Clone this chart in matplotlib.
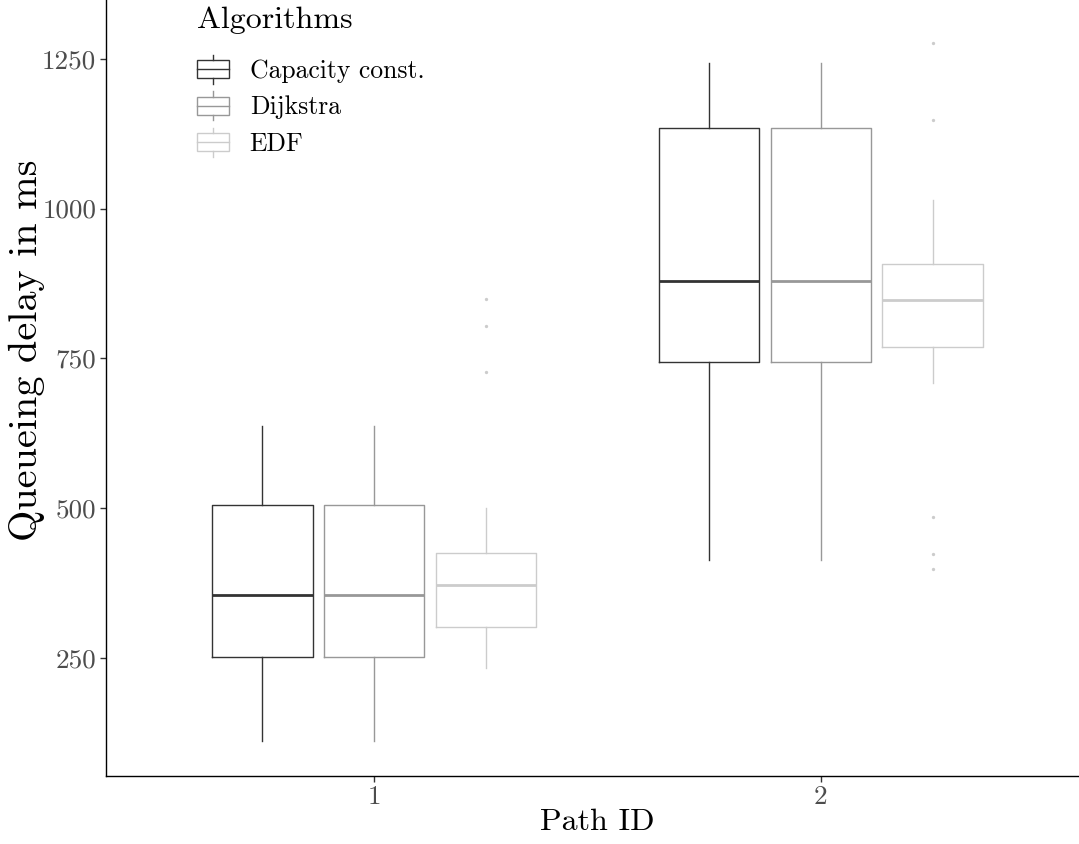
import matplotlib
matplotlib.use("Agg")
import matplotlib.pyplot as plt
from matplotlib.legend_handler import HandlerBase
from matplotlib.lines import Line2D
from matplotlib.patches import Rectangle, Patch

plt.rcParams['font.family'] = ['cmr10', 'DejaVu Serif']
plt.rcParams['axes.unicode_minus'] = False
plt.rcParams['mathtext.fontset'] = 'cm'

# ---------------- data ----------------
paths = [1, 2]
path_labels = ['1', '2']
algorithms = ['Capacity const.', 'Dijkstra', 'EDF']
colors = ['#333333', '#989898', '#CCCCCC']

# per path: [Capacity const., Dijkstra, EDF]
whisker_low = [[112, 112, 233], [413, 413, 709]]
q1_vals     = [[252, 252, 302], [744, 744, 769]]
medians     = [[356, 356, 372], [879, 879, 847]]
q3_vals     = [[506, 506, 425], [1134, 1134, 908]]
whisker_high = [[638, 638, 500], [1243, 1243, 1014]]
outliers = [[[], [], [849, 804, 728]],
            [[], [], [1277, 1147, 486, 424, 398]]]

y_ticks = [250, 500, 750, 1000, 1250]
x_title = 'Path ID'
y_title = 'Queueing delay in ms'
legend_title = 'Algorithms'

BASE = 23
YTITLE = 29
SMALL = 18.5
TICK = 19.5

# ---------------- figure ----------------
W, H = 1079, 844
fig = plt.figure(figsize=(W / 100, H / 100), dpi=100)
ax_left, ax_right, ax_top, ax_bottom = 106, 1089, 0, 776
ax = fig.add_axes([ax_left / W, 1 - ax_bottom / H,
                   (ax_right - ax_left) / W, (ax_bottom - ax_top) / H])

dodge = 0.25
box_w = 0.225
lw = 1.0
for k, alg in enumerate(algorithms):
    stats = []
    pos = []
    for i, p in enumerate(paths):
        stats.append(dict(whislo=whisker_low[i][k], q1=q1_vals[i][k], med=medians[i][k],
                          q3=q3_vals[i][k], whishi=whisker_high[i][k],
                          fliers=outliers[i][k], label=alg))
        pos.append(p + (k - 1) * dodge)
    c = colors[k]
    ax.bxp(stats, positions=pos, widths=box_w, showcaps=False, patch_artist=False,
           boxprops=dict(color=c, linewidth=lw),
           whiskerprops=dict(color=c, linewidth=lw),
           medianprops=dict(color=c, linewidth=2 * lw, solid_capstyle='butt'),
           flierprops=dict(marker='o', markersize=2.4, markerfacecolor=c,
                           markeredgecolor='none', linestyle='none'),
           manage_ticks=False, zorder=2)

ax.set_xlim(0.4, 2.6)
ax.set_ylim(53.2, 1348)
ax.set_xticks(paths)
ax.set_xticklabels(path_labels)
ax.set_yticks(y_ticks)
ax.set_yticklabels([str(v) for v in y_ticks])
ax.tick_params(axis='both', length=4, width=1, color='#333333',
               labelcolor='#4D4D4D', labelsize=TICK, pad=3)
for s in ['top', 'right']:
    ax.spines[s].set_visible(False)
for s in ['left', 'bottom']:
    ax.spines[s].set_linewidth(1.0)
    ax.spines[s].set_color('black')

fig.text(597 / W, 1 - 822 / H, x_title, ha='center', va='center', fontsize=BASE)
fig.text(27 / W, 1 - 350 / H, y_title, ha='center', va='center', fontsize=YTITLE,
         rotation=90)

# legend key size in points (box half-height, whisker half-height)
BOX_HALF = 6.5
WHISK_HALF = 10.4


class BoxKey(HandlerBase):
    def create_artists(self, legend, orig_handle, xdescent, ydescent, width, height,
                       fontsize, trans):
        c = orig_handle.get_edgecolor()
        x0, y0 = -xdescent, -ydescent
        xm = x0 + width / 2
        yc = y0 + height / 2
        b0, b1 = yc - BOX_HALF, yc + BOX_HALF
        w0, w1 = yc - WHISK_HALF, yc + WHISK_HALF
        arts = [
            Line2D([xm, xm], [w0, b0], color=c, lw=lw, transform=trans),
            Line2D([xm, xm], [b1, w1], color=c, lw=lw, transform=trans),
            Rectangle((x0, b0), width, b1 - b0, fill=False, edgecolor=c, lw=lw,
                      transform=trans),
            Line2D([x0, x0 + width], [yc, yc], color=c, lw=lw, transform=trans),
        ]
        return arts


handles = [Patch(edgecolor=c, facecolor='none') for c in colors]
leg = fig.legend(handles, algorithms, title=legend_title, loc='upper left',
                 bbox_to_anchor=(197 / W, 1 - 6 / H), frameon=False,
                 fontsize=SMALL, title_fontsize=BASE, handler_map={Patch: BoxKey()},
                 handlelength=1.25, handleheight=1.4, labelspacing=0.27,
                 handletextpad=0.8, borderpad=0.0, borderaxespad=0)
leg._legend_box.align = 'left'
leg._legend_box.sep = 15

fig.savefig('out.png', dpi=100)
